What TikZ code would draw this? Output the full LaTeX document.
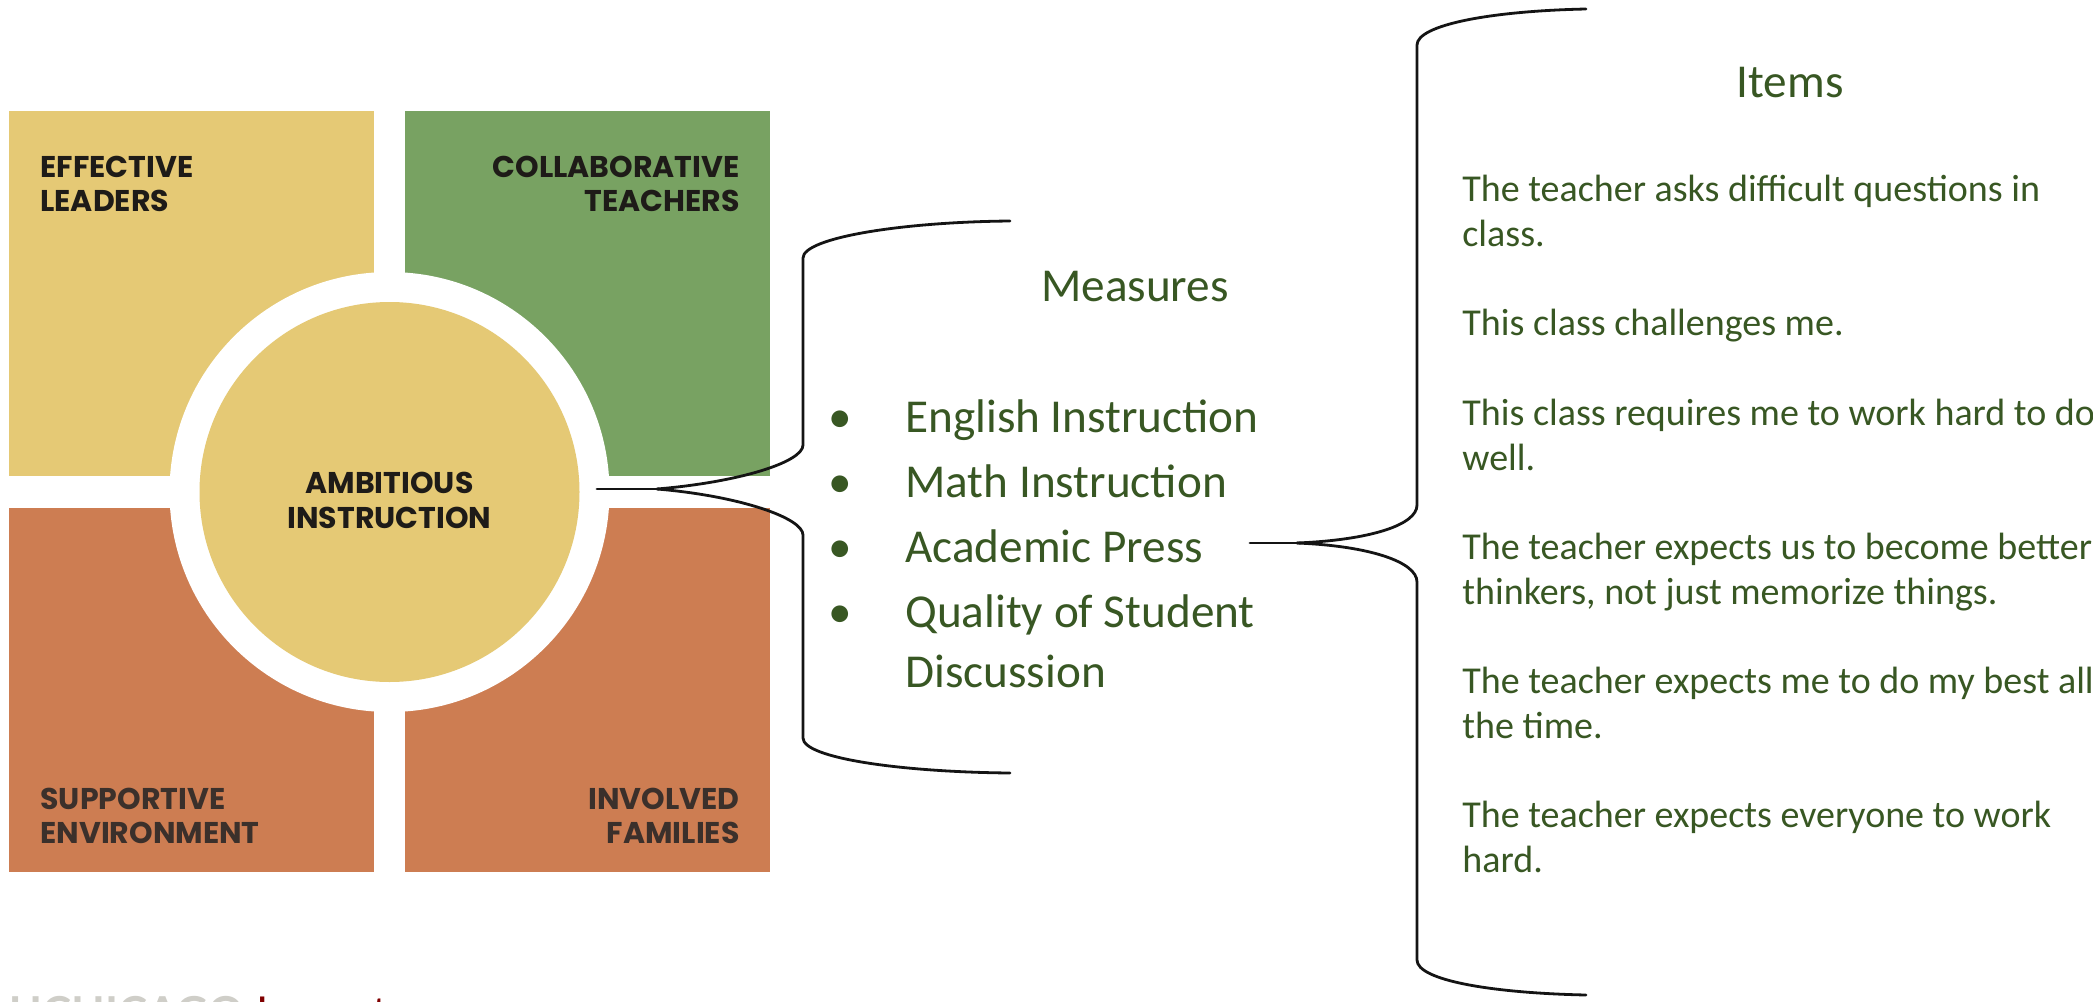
\documentclass[tikz,border=0pt]{standalone}
\usepackage{fontspec}
\setmainfont{Carlito}
\newfontfamily\quadfont{Poppins}
\newfontfamily\logofont{Lato}
\definecolor{qyellow}{HTML}{E5C975}
\definecolor{qgreen}{HTML}{78A262}
\definecolor{qorange}{HTML}{CD7D52}
\definecolor{txtgreen}{HTML}{385723}
\definecolor{qdark}{HTML}{1E1B18}
\definecolor{qbrown}{HTML}{3B302B}
\definecolor{logogray}{HTML}{CFCEC8}
\definecolor{logored}{HTML}{800000}
\begin{document}
\begin{tikzpicture}[x=0.5pt,y=-0.5pt,
  quadlabel/.style={font=\quadfont\bfseries\fontsize{15}{18}\selectfont, inner sep=0pt},
  measuretext/.style={font=\fontsize{23.6}{28}\selectfont, text=txtgreen, inner sep=0pt},
  itemtext/.style={font=\fontsize{19}{22}\selectfont, text=txtgreen, inner sep=0pt},
  bracepath/.style={draw=black!92, line width=1.4pt, line cap=round, line join=round}]
\useasboundingbox (0,0) rectangle (2093,1001);
\fill[white] (0,0) rectangle (2093,1001);
% quadrants
\fill[qyellow] (9,111) rectangle (374,476);
\fill[qgreen] (405,111) rectangle (770,476);
\fill[qorange] (9,508) rectangle (374,872);
\fill[qorange] (405,508) rectangle (770,872);
\node[circle, fill=white, minimum size=220pt, inner sep=0pt] (ring) at (389.5,492) {};
\node[circle, fill=qyellow, minimum size=190pt, inner sep=0pt] (amb) at (389.5,492) {};
% quadrant labels
\node[quadlabel, text=qdark, anchor=base west] (el1) at (40,177) {EFFECTIVE};
\node[quadlabel, text=qdark, anchor=base west] (el2) at (40,211) {LEADERS};
\node[quadlabel, text=qdark, anchor=base east] (ct1) at (740,177) {COLLABORATIVE};
\node[quadlabel, text=qdark, anchor=base east] (ct2) at (740,211) {TEACHERS};
\node[quadlabel, text=qdark, anchor=base] (ai1) at (389.5,493) {AMBITIOUS};
\node[quadlabel, text=qdark, anchor=base] (ai2) at (389.5,528) {INSTRUCTION};
\node[quadlabel, text=qbrown, anchor=base west] (se1) at (40,809) {SUPPORTIVE};
\node[quadlabel, text=qbrown, anchor=base west] (se2) at (40,843) {ENVIRONMENT};
\node[quadlabel, text=qbrown, anchor=base east] (if1) at (740,809) {INVOLVED};
\node[quadlabel, text=qbrown, anchor=base east] (if2) at (740,843) {FAMILIES};
% logo (cut off at the bottom, as in the reference)
\node[font=\logofont\bfseries\fontsize{22}{26}\selectfont, text=logogray, inner sep=0pt, anchor=base west] (logo1) at (9,1028) {UCHICAGO};
\node[font=\logofont\fontsize{22}{26}\selectfont, text=logored, inner sep=0pt, anchor=base west] (logo2) at (256,1028) {Impact};
% measures
\node[measuretext, anchor=base] (meas) at (1135,301.5) {Measures};
\node[measuretext, anchor=base] (b1) at (840,432) {•};
\node[measuretext, anchor=base west] (m1) at (905,432) {English Instruction};
\node[measuretext, anchor=base] (b2) at (840,497) {•};
\node[measuretext, anchor=base west] (m2) at (905,497) {Math Instruction};
\node[measuretext, anchor=base] (b3) at (840,562) {•};
\node[measuretext, anchor=base west] (m3) at (905,562) {Academic Press};
\node[measuretext, anchor=base] (b4) at (840,627) {•};
\node[measuretext, anchor=base west] (m4) at (905,627) {Quality of Student};
\node[measuretext, anchor=base west] (m5) at (905,687) {Discussion};
% items
\node[measuretext, anchor=base] (items) at (1790,97) {Items};
\node[itemtext, anchor=base west] (i1) at (1462,201) {The teacher asks difficult questions in};
\node[itemtext, anchor=base west] (i2) at (1462,246) {class.};
\node[itemtext, anchor=base west] (i3) at (1462,335) {This class challenges me.};
\node[itemtext, anchor=base west] (i4) at (1462,425) {This class requires me to work hard to do};
\node[itemtext, anchor=base west] (i5) at (1462,470) {well.};
\node[itemtext, anchor=base west] (i6) at (1462,559) {The teacher expects us to become better};
\node[itemtext, anchor=base west] (i7) at (1462,604) {thinkers, not just memorize things.};
\node[itemtext, anchor=base west] (i8) at (1462,693) {The teacher expects me to do my best all};
\node[itemtext, anchor=base west] (i9) at (1462,738) {the time.};
\node[itemtext, anchor=base west] (i10) at (1462,827) {The teacher expects everyone to work};
\node[itemtext, anchor=base west] (i11) at (1462,872) {hard.};
% brace A (circle -> measures)
\coordinate (tipA) at (597,489);
\coordinate (splitA) at (657,489);
\coordinate (aTop) at (1010,221);
\coordinate (aBot) at (1010,773);
\draw[bracepath] (tipA) -- (splitA);
\draw[bracepath] (splitA) .. controls (740,482) and (803,462) .. (803,445) -- (803,258) .. controls (803,238) and (900,222) .. (aTop);
\draw[bracepath] (splitA) .. controls (740,496) and (803,518) .. (803,535) -- (803,738) .. controls (803,758) and (900,772) .. (aBot);
% brace B (academic press -> items)
\coordinate (tipB) at (1250,543);
\coordinate (splitB) at (1297,543);
\coordinate (bTop) at (1586,9);
\coordinate (bBot) at (1586,995);
\draw[bracepath] (tipB) -- (splitB);
\draw[bracepath] (splitB) .. controls (1370,540) and (1417,525) .. (1417,505) -- (1417,45) .. controls (1417,25) and (1490,11) .. (bTop);
\draw[bracepath] (splitB) .. controls (1370,546) and (1417,562) .. (1417,582) -- (1417,960) .. controls (1417,980) and (1490,993) .. (bBot);
\end{tikzpicture}
\end{document}
